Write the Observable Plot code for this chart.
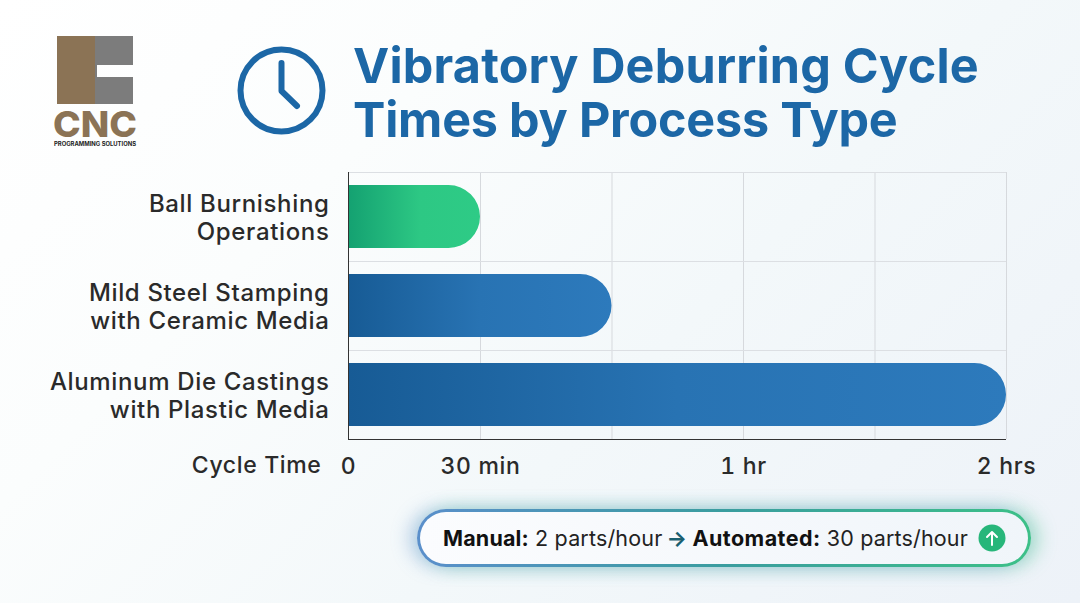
<!DOCTYPE html>
<html><head><meta charset="utf-8">
<script src="https://cdn.jsdelivr.net/npm/d3@7"></script>
<script src="https://cdn.jsdelivr.net/npm/@observablehq/plot@0.6"></script>
<style>
html,body{margin:0;padding:0}
body{width:1080px;height:603px;position:relative;overflow:hidden;font-family:Inter,sans-serif;
background:linear-gradient(135deg,#ffffff 0%,#fbfdfd 30%,#f3f8fa 60%,#edf2f8 100%)}
#title{position:absolute;left:353px;top:39px;margin:0;font-size:48.5px;line-height:54px;font-weight:700;color:#1c67a6;white-space:nowrap;letter-spacing:.2px}
#title span{letter-spacing:-.2px}
#plot{position:absolute;left:0;top:160px}
#plot svg{background:transparent;display:block}
#plot svg text{letter-spacing:.65px}
#deco{position:absolute;left:0;top:0}
#pill{position:absolute;left:417px;top:509px;width:614px;height:58px;box-sizing:border-box;border:3px solid transparent;border-radius:29px;
background:linear-gradient(90deg,#fbfcfe,#f0f5fa) padding-box,linear-gradient(90deg,#5a8fcb,#3a9d9f 50%,#3cc088) border-box;
box-shadow:-8px 0 18px rgba(90,143,203,.38),8px 0 18px rgba(60,192,136,.38);
font-size:21.5px;line-height:52px;color:#222;white-space:nowrap;padding-left:23px;letter-spacing:.16px}
#pill b{font-weight:700;color:#111}
#pill b.auto{letter-spacing:.45px}
#pill .ar{color:#1a5f70;font-weight:700;margin:0 -1px 0 -2px}
</style></head><body>
<svg id="deco" width="1080" height="603">
  <rect x="57" y="36" width="38" height="68" fill="#8b7355"/>
  <rect x="95" y="36" width="38" height="29" fill="#7c7c7c"/>
  <rect x="95" y="65" width="2" height="12" fill="#7c7c7c"/>
  <rect x="95" y="77" width="38" height="27" fill="#7c7c7c"/>
  <text x="95" y="136.500" text-anchor="middle" font-family="Inter" font-weight="800" font-size="36" fill="#8b7355" textLength="84" lengthAdjust="spacingAndGlyphs">CNC</text>
  <text x="95" y="145.500" text-anchor="middle" font-family="Inter" font-weight="700" font-size="5.500" fill="#222" textLength="82" lengthAdjust="spacingAndGlyphs">PROGRAMMING SOLUTIONS</text>
  <circle cx="281.500" cy="90.500" r="41" fill="none" stroke="#1c67a6" stroke-width="6"/>
  <path d="M281.500 63V91L297 106" fill="none" stroke="#1c67a6" stroke-width="6" stroke-linecap="round" stroke-linejoin="round"/>
  <defs>
    <linearGradient id="gGreen" x1="0" x2="1" y1="0" y2="0"><stop offset="0" stop-color="#14a171"/><stop offset=".55" stop-color="#2dc884"/><stop offset="1" stop-color="#2ecb86"/></linearGradient>
    <linearGradient id="gBlue" x1="0" x2="1" y1="0" y2="0"><stop offset="0" stop-color="#175b95"/><stop offset=".5" stop-color="#2873b3"/><stop offset="1" stop-color="#2d7abc"/></linearGradient>
  </defs>
</svg>
<h1 id="title">Vibratory Deburring Cycle<br><span>Times by Process Type</span></h1>
<div id="plot"></div>
<div id="pill"><b>Manual:</b> 2 parts/hour <span class="ar">→</span> <b class="auto">Automated:</b> 30 parts/hour</div>
<svg style="position:absolute;left:978px;top:524px" width="28" height="28"><circle cx="14" cy="14" r="13.500" fill="#27b67a"/><path d="M14 21V8M9 13l5-5 5 5" fill="none" stroke="#fff" stroke-width="2" stroke-linecap="round" stroke-linejoin="round"/></svg>
<script>
const categories = ["Ball Burnishing\nOperations", "Mild Steel Stamping\nwith Ceramic Media", "Aluminum Die Castings\nwith Plastic Media"];
const minutes = [30, 45, 120];
const fills = ["url(#gGreen)", "url(#gBlue)", "url(#gBlue)"];
const gridMinutes = [0, 30, 45, 60, 90, 120];
const tickMinutes = [0, 30, 60, 120];
const tickLabels = ["0", "30 min", "1 hr", "2 hrs"];
const rows = categories.map((c, i) => ({c, m: minutes[i], f: fills[i]}));
const chart = Plot.plot({
  width: 1080, height: 320,
  marginLeft: 348, marginRight: 74, marginTop: 12, marginBottom: 41,
  style: {background: "transparent", fontFamily: "Inter, sans-serif"},
  x: {type: "linear", domain: tickMinutes, range: [348, 480, 743, 1006]},
  y: {domain: categories, paddingInner: 0.292, paddingOuter: 0.146, align: 0.5},
  marks: [
    Plot.ruleX(gridMinutes, {stroke: "#d6d9dd", strokeWidth: 1}),
    Plot.ruleY(categories, {dy: -44.5, stroke: "#dcdfe3", strokeWidth: 1.2}),
    Plot.barX(rows, {y: "c", x1: 0, x2: "m", fill: "f", rx2: 32}),
    Plot.ruleX([0], {stroke: "#333"}),
    Plot.ruleY(categories.slice(-1), {dy: 44.5, stroke: "#333"}),
    Plot.axisY({anchor: "left", tickSize: 0, tickPadding: 19, label: null, fontSize: 24, fontWeight: 500, fill: "#2a2a2a", lineHeight: 1.15}),
    Plot.axisX({ticks: tickMinutes, tickFormat: (d) => tickLabels[tickMinutes.indexOf(d)], tickSize: 0, tickPadding: 18, label: null, fontSize: 23, fontWeight: 500, fill: "#2a2a2a"}),
    Plot.text(["Cycle Time"], {frameAnchor: "bottom-left", dx: -27, dy: 26, textAnchor: "end", lineAnchor: "middle", fontSize: 23, fontWeight: 500, fill: "#2a2a2a"})
  ]
});
document.getElementById("plot").append(chart);
</script>
</body></html>
